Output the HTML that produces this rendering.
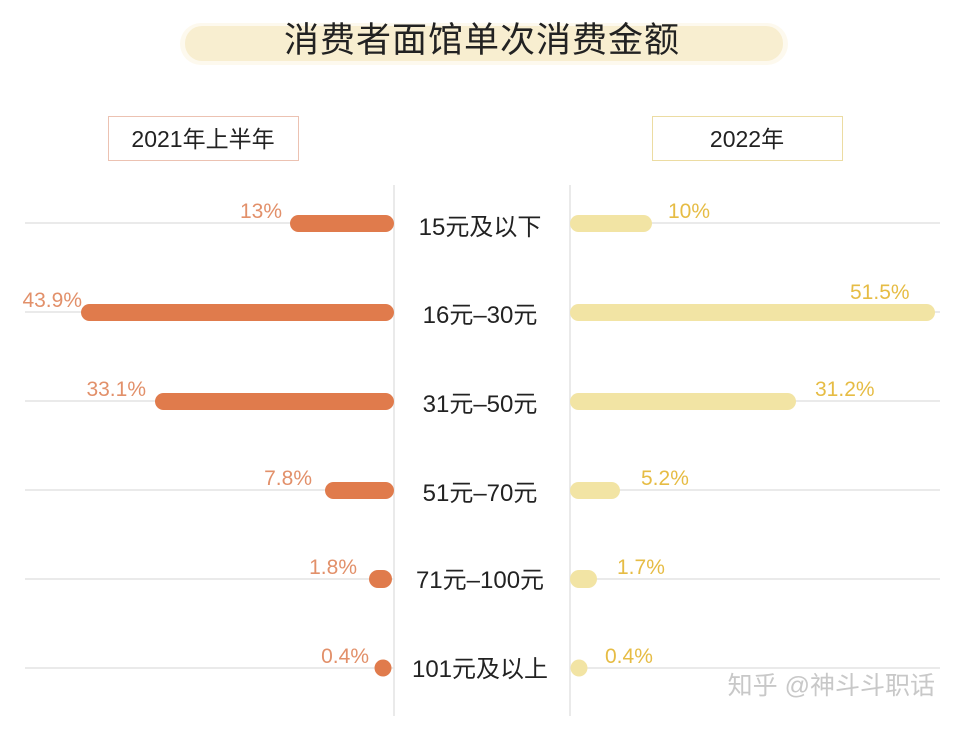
<!DOCTYPE html>
<html><head><meta charset="utf-8"><style>
body{margin:0;background:#fff;}
svg text{font-family:"Liberation Sans","Noto Sans CJK SC",sans-serif;}
</style></head><body>
<svg width="960" height="726" viewBox="0 0 960 726" xmlns="http://www.w3.org/2000/svg">
<rect width="960" height="726" fill="#fff"/>
<rect x="180" y="23" width="608" height="42" rx="21" fill="#fdf9ee"/>
<rect x="185" y="26" width="598" height="35" rx="17" fill="#f8eed0"/>
<text x="482" y="52" font-size="35" text-anchor="middle" fill="#222" letter-spacing="1">消费者面馆单次消费金额</text>
<rect x="108.5" y="116.5" width="190" height="44" fill="#fff" stroke="#ecc2b2"/>
<text x="203" y="147" font-size="23" text-anchor="middle" fill="#222">2021年上半年</text>
<rect x="652.5" y="116.5" width="190" height="44" fill="#fff" stroke="#ecdca2"/>
<text x="747" y="147" font-size="23" text-anchor="middle" fill="#222">2022年</text>
<g stroke="#e4e4e4" stroke-width="1.5">
<line x1="394" y1="185" x2="394" y2="716"/><line x1="570" y1="185" x2="570" y2="716"/>
<line x1="25" y1="223" x2="394" y2="223"/><line x1="570" y1="223" x2="940" y2="223"/>
<line x1="25" y1="312" x2="394" y2="312"/><line x1="570" y1="312" x2="940" y2="312"/>
<line x1="25" y1="401" x2="394" y2="401"/><line x1="570" y1="401" x2="940" y2="401"/>
<line x1="25" y1="490" x2="394" y2="490"/><line x1="570" y1="490" x2="940" y2="490"/>
<line x1="25" y1="579" x2="394" y2="579"/><line x1="570" y1="579" x2="940" y2="579"/>
<line x1="25" y1="668" x2="394" y2="668"/><line x1="570" y1="668" x2="940" y2="668"/>
</g>
<g fill="#e07b4c">
<rect x="290" y="215" width="104" height="17" rx="8.5"/>
<rect x="81" y="304" width="313" height="17" rx="8.5"/>
<rect x="155" y="393" width="239" height="17" rx="8.5"/>
<rect x="325" y="482" width="69" height="17" rx="8.5"/>
<rect x="369" y="570" width="23" height="18" rx="9"/>
<circle cx="383" cy="668" r="8.5"/>
</g>
<g fill="#f2e4a4">
<rect x="570" y="215" width="82" height="17" rx="8.5"/>
<rect x="570" y="304" width="365" height="17" rx="8.5"/>
<rect x="570" y="393" width="226" height="17" rx="8.5"/>
<rect x="570" y="482" width="50" height="17" rx="8.5"/>
<rect x="570" y="570" width="27" height="18" rx="9"/>
<circle cx="579" cy="668" r="8.5"/>
</g>
<g font-size="21" fill="#e2906a" text-anchor="end">
<text x="282" y="218">13%</text>
<text x="82" y="307">43.9%</text>
<text x="146" y="396">33.1%</text>
<text x="312" y="485">7.8%</text>
<text x="357" y="574">1.8%</text>
<text x="369" y="663">0.4%</text>
</g>
<g font-size="21" fill="#e6bc44">
<text x="668" y="218">10%</text>
<text x="850" y="299">51.5%</text>
<text x="815" y="396">31.2%</text>
<text x="641" y="485">5.2%</text>
<text x="617" y="574">1.7%</text>
<text x="605" y="663">0.4%</text>
</g>
<g font-size="24" fill="#222" text-anchor="middle">
<text x="480" y="235">15元及以下</text>
<text x="480" y="323">16元–30元</text>
<text x="480" y="412">31元–50元</text>
<text x="480" y="501">51元–70元</text>
<text x="480" y="588">71元–100元</text>
<text x="480" y="677">101元及以上</text>
</g>
<text x="935" y="694" font-size="25" fill="#c8c8c8" text-anchor="end">知乎 @神斗斗职话</text>
</svg>
</body></html>
